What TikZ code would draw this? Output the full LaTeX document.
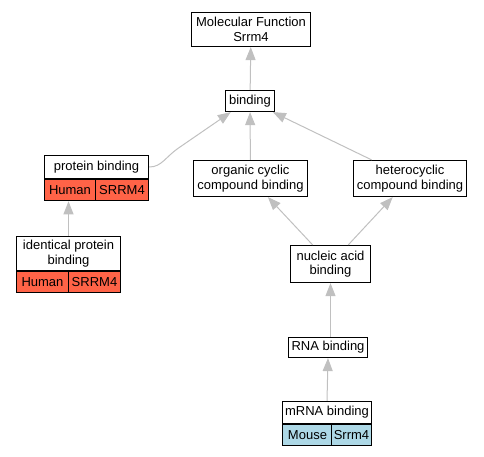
\documentclass[tikz,border=0pt]{standalone}
\usepackage{fontspec}
\setmainfont{Liberation Sans}
\usepackage{xcolor}
\usepackage{tikz}
\usetikzlibrary{positioning,arrows.meta}
\definecolor{humanred}{HTML}{FF6347}
\definecolor{mouseblue}{HTML}{ADD8E6}
\definecolor{edgegray}{HTML}{C0C0C0}

\begin{document}
\begin{tikzpicture}[x=1pt,y=-1pt,->,>={Triangle[length=13pt,width=10pt]},font=\fontsize{13}{14.5}\selectfont]
    \tikzstyle{term}=[draw=black,fill=white,line width=1.2pt,rectangle,inner sep=0pt,align=center]
    \tikzstyle{cell}=[term,minimum height=21pt]
    \tikzstyle{every edge}=[draw=edgegray,line width=1pt]
    \useasboundingbox (0,0) rectangle (484,456);
    % GO terms
    \node[term, minimum width=119pt, minimum height=34pt] (mf) at (251,29.5) {Molecular Function\\Srrm4};
    \node[term, minimum width=49pt, minimum height=21pt] (bind) at (250,101) {binding};
    \node[term, minimum width=104pt, minimum height=23pt] (pb) at (96.5,167) {protein binding};
    \node[cell, fill=humanred, minimum width=51pt, anchor=north west] (pbh) at (pb.south west) {Human};
    \node[cell, fill=humanred, minimum width=53pt, anchor=north east] (pbs) at (pb.south east) {SRRM4};
    \node[term, minimum width=114pt, minimum height=36pt] (occ) at (250.5,178.5) {organic cyclic\\compound binding};
    \node[term, minimum width=113pt, minimum height=36pt] (het) at (410,178.5) {heterocyclic\\compound binding};
    \node[term, minimum width=104pt, minimum height=34pt] (ipb) at (68.5,253.5) {identical protein\\binding};
    \node[cell, fill=humanred, minimum width=52pt, anchor=north west] (ipbh) at (ipb.south west) {Human};
    \node[cell, fill=humanred, minimum width=52pt, anchor=north east] (ipbs) at (ipb.south east) {SRRM4};
    \node[term, minimum width=80pt, minimum height=37pt] (nab) at (330.5,264) {nucleic acid\\binding};
    \node[term, minimum width=79pt, minimum height=20pt] (rna) at (328,347.5) {RNA binding};
    \node[term, minimum width=89pt, minimum height=22pt] (mrna) at (327,412.5) {mRNA binding};
    \node[cell, fill=mouseblue, minimum width=50pt, anchor=north west] (mrnam) at (mrna.south west) {Mouse};
    \node[cell, fill=mouseblue, minimum width=40pt, anchor=north east] (mrnas) at (mrna.south east) {Srrm4};
    % is_a links
    \path (bind) edge (mf)
          (occ) edge (bind)
          (het) edge (bind)
          (nab) edge (occ)
          (nab) edge (het)
          (rna.north -| nab) edge (nab)
          (mrna.north) edge (rna.south)
          (ipb.north) edge (ipb.north |- pbh.south);
    \draw[edgegray,line width=1pt] (pb.east) .. controls (162,167) and (165,157) .. (180,147) -- (bind.210);
\end{tikzpicture}
\end{document}
